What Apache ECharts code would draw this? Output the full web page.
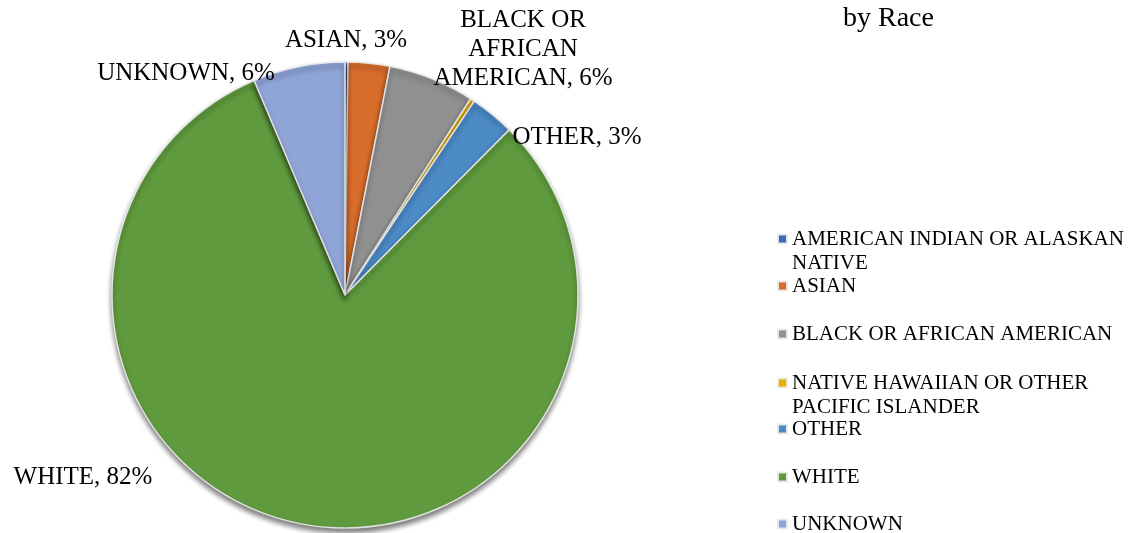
<!DOCTYPE html>
<html>
<head>
<meta charset="utf-8">
<script src="https://cdn.jsdelivr.net/npm/echarts@6/dist/echarts.min.js"></script>
<style>
html,body{margin:0;padding:0;background:#fff;}
#chart{width:1137px;height:533px;}
</style>
</head>
<body>
<div id="chart"></div>
<script>
// ---- data ----
var categories = [
  'AMERICAN INDIAN OR ALASKAN NATIVE',
  'ASIAN',
  'BLACK OR AFRICAN AMERICAN',
  'NATIVE HAWAIIAN OR OTHER PACIFIC ISLANDER',
  'OTHER',
  'WHITE',
  'UNKNOWN'
];
var values = [0.2, 2.9, 6.0, 0.3, 3.1, 81.5, 6.4];
var titleText = 'by Race';

// ---- styles ----
var colors = ['#3F67B1', '#D86C2B', '#909090', '#E8B000', '#4C8AC6', '#5F9A3E', '#8FA5D7'];
var serif = "'Times New Roman', 'Liberation Serif', serif";
var labelText = {
  'BLACK OR AFRICAN AMERICAN': 'BLACK OR\nAFRICAN\nAMERICAN'
};
var legendText = {
  'AMERICAN INDIAN OR ALASKAN NATIVE': '\nAMERICAN INDIAN OR ALASKAN\nNATIVE',
  'NATIVE HAWAIIAN OR OTHER PACIFIC ISLANDER': '\nNATIVE HAWAIIAN OR OTHER\nPACIFIC ISLANDER'
};
var labelPos = {
  'ASIAN': [346, 40],
  'BLACK OR AFRICAN AMERICAN': [523, 49],
  'OTHER': [577, 137],
  'WHITE': [83, 477],
  'UNKNOWN': [186, 73]
};
var legendTops = [203, 274, 322, 347, 417, 465, 512];

var data = categories.map(function (c, i) {
  return { name: c, value: values[i], label: { show: values[i] >= 1 } };
});

var legends = categories.map(function (c, i) {
  return {
    data: [c],
    orient: 'vertical',
    left: 777,
    top: legendTops[i],
    padding: 0,
    icon: 'rect',
    itemWidth: 9,
    itemHeight: 9,
    selectedMode: false,
    formatter: function (n) { return legendText[n] || n; },
    textStyle: { fontFamily: serif, fontSize: 21, color: '#000', lineHeight: 24 }
  };
});

var chart = echarts.init(document.getElementById('chart'), null, { renderer: 'canvas' });
chart.setOption({
  backgroundColor: '#fff',
  animation: false,
  color: colors,
  title: {
    text: titleText,
    left: 843,
    top: 5,
    padding: 0,
    textStyle: { fontFamily: serif, fontSize: 28, fontWeight: 'normal', color: '#000' }
  },
  legend: legends,
  series: [{
    type: 'pie',
    center: [345, 295],
    radius: 233,
    startAngle: 90,
    clockwise: true,
    data: data,
    itemStyle: {
      borderColor: 'rgba(235,235,235,0.9)',
      borderWidth: 1.5,
      shadowBlur: 5,
      shadowOffsetY: 4,
      shadowColor: 'rgba(0,0,0,0.5)'
    },
    emphasis: { disabled: true },
    labelLine: { show: false },
    label: {
      position: 'outside',
      fontFamily: serif,
      fontSize: 25,
      lineHeight: 29,
      color: '#000',
      align: 'center',
      formatter: function (p) {
        return (labelText[p.name] || p.name) + ', ' + Math.round(p.value) + '%';
      }
    },
    labelLayout: function (params) {
      var name = categories[params.dataIndex];
      var pos = labelPos[name];
      if (!pos) return {};
      return { x: pos[0], y: pos[1], align: 'center', verticalAlign: 'middle' };
    }
  }]
});
</script>
</body>
</html>
